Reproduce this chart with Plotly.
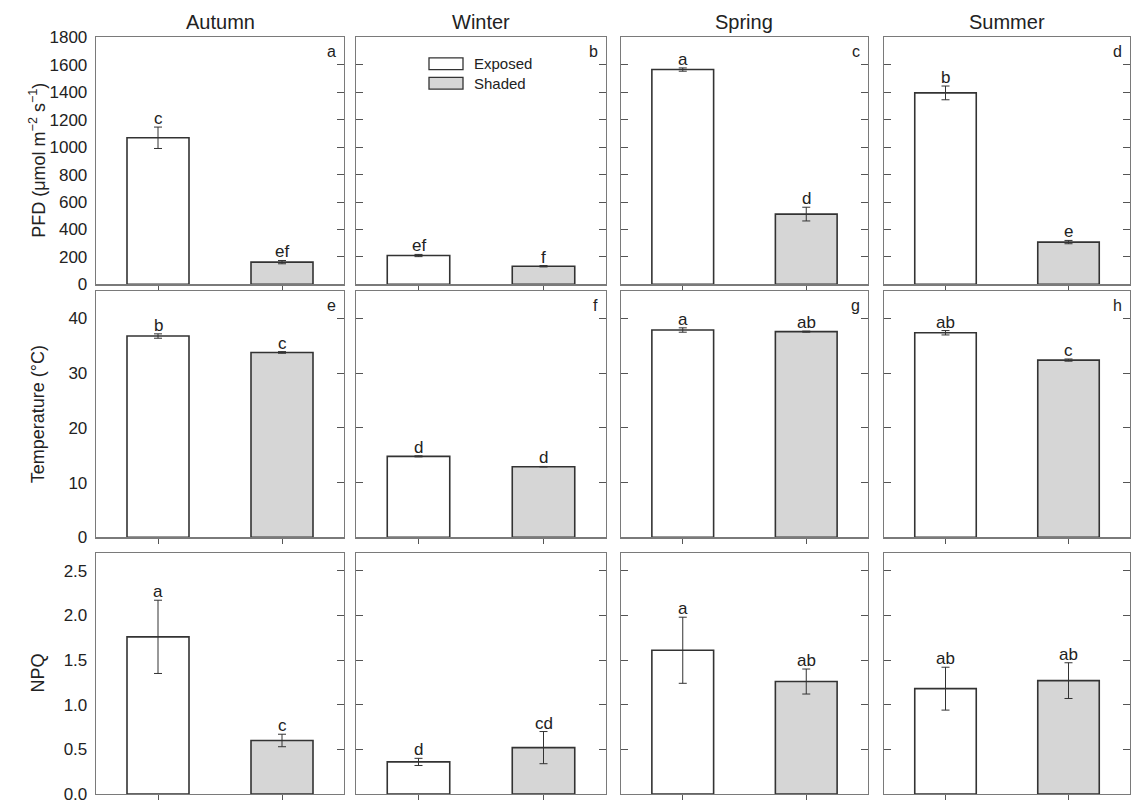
import plotly.graph_objects as go

W, H = 1134, 807

seasons = ["Autumn", "Winter", "Spring", "Summer"]
treatments = ["Exposed", "Shaded"]
panel_letters = [["a", "b", "c", "d"], ["e", "f", "g", "h"], ["", "", "", ""]]

pfd_exposed = [1068, 210, 1565, 1395]
pfd_exposed_se = [78, 8, 12, 50]
pfd_shaded = [162, 132, 512, 308]
pfd_shaded_se = [12, 5, 50, 12]
pfd_sig = [["c", "ef"], ["ef", "f"], ["a", "d"], ["b", "e"]]

temp_exposed = [36.8, 14.8, 37.9, 37.4]
temp_exposed_se = [0.4, 0.1, 0.4, 0.4]
temp_shaded = [33.8, 12.9, 37.6, 32.4]
temp_shaded_se = [0.15, 0.05, 0.1, 0.2]
temp_sig = [["b", "c"], ["d", "d"], ["a", "ab"], ["ab", "c"]]

npq_exposed = [1.76, 0.36, 1.61, 1.18]
npq_exposed_se = [0.41, 0.04, 0.37, 0.24]
npq_shaded = [0.60, 0.52, 1.26, 1.27]
npq_shaded_se = [0.07, 0.18, 0.14, 0.20]
npq_sig = [["a", "c"], ["d", "cd"], ["a", "ab"], ["ab", "ab"]]

pfd_ticks = [0, 200, 400, 600, 800, 1000, 1200, 1400, 1600, 1800]
temp_ticks = [0, 10, 20, 30, 40]
npq_ticks = [0.0, 0.5, 1.0, 1.5, 2.0, 2.5]
npq_ticklabels = ["0.0", "0.5", "1.0", "1.5", "2.0", "2.5"]

rows = [
    dict(ex=pfd_exposed, exse=pfd_exposed_se, sh=pfd_shaded, shse=pfd_shaded_se, sig=pfd_sig,
         rng=[0, 1800], ticks=pfd_ticks, ticktext=[str(t) for t in pfd_ticks],
         title="PFD (\u03bcmol m<sup>\u22122</sup> s<sup>\u22121</sup>)"),
    dict(ex=temp_exposed, exse=temp_exposed_se, sh=temp_shaded, shse=temp_shaded_se, sig=temp_sig,
         rng=[0, 45], ticks=temp_ticks, ticktext=[str(t) for t in temp_ticks],
         title="Temperature (\u00b0C)"),
    dict(ex=npq_exposed, exse=npq_exposed_se, sh=npq_shaded, shse=npq_shaded_se, sig=npq_sig,
         rng=[0, 2.7], ticks=npq_ticks, ticktext=npq_ticklabels,
         title="NPQ"),
]

col_px = [(96, 344), (356, 606), (621, 868), (884, 1130)]
row_px = [(29, 282), (289, 541), (557, 804)]

FONT = "Liberation Sans, Arial, Helvetica, sans-serif"
TXT = "#222222"
AXC = "#7a7a7a"
SHADE = "#d6d6d6"

fig = go.Figure()
layout = dict(
    width=W, height=H, margin=dict(l=0, r=0, t=0, b=0),
    paper_bgcolor="white", plot_bgcolor="white", showlegend=False,
    font=dict(family=FONT, color=TXT, size=16),
    bargap=0.5,
)
annotations = []
shapes = []

for r, rd in enumerate(rows):
    top, bot = row_px[r]
    for c in range(4):
        n = r * 4 + c + 1
        xa = "x" if n == 1 else f"x{n}"
        ya = "y" if n == 1 else f"y{n}"
        l, rt = col_px[c]
        fig.add_trace(go.Bar(
            x=treatments, y=[rd["ex"][c], rd["sh"][c]],
            xaxis=xa, yaxis=ya, width=0.5,
            marker=dict(color=["white", SHADE], line=dict(color="#333333", width=1.6)),
            error_y=dict(type="data", array=[rd["exse"][c], rd["shse"][c]],
                         color="#333333", thickness=1, width=4),
            hoverinfo="skip",
        ))
        layout[f"xaxis{n}"] = dict(
            domain=[l / W, rt / W], anchor=ya, type="category",
            categoryorder="array", categoryarray=treatments, range=[-0.5, 1.5],
            showline=True, linecolor=AXC, linewidth=1.3, mirror=True,
            ticks="outside", ticklen=5, tickcolor="#555555", tickwidth=1,
            showticklabels=False, showgrid=False, zeroline=False, fixedrange=True,
        )
        ydict = dict(
            domain=[1 - bot / H, 1 - top / H], anchor=xa, range=rd["rng"],
            showline=True, linecolor=AXC, linewidth=1.3,
            showgrid=False, zeroline=False, fixedrange=True,
            tickvals=rd["ticks"], ticktext=rd["ticktext"],
            tickcolor="#555555", tickwidth=1,
        )
        if c == 0:
            ydict.update(mirror=True, ticks="outside", ticklen=4,
                         tickcolor="rgba(0,0,0,0)", showticklabels=True,
                         tickfont=dict(size=17, color=TXT))
            en = 12 + r + 1
            layout[f"yaxis{en}"] = dict(
                overlaying=ya, side="right", anchor=xa, range=rd["rng"],
                tickvals=rd["ticks"], ticks="inside", ticklen=7,
                tickcolor="#555555", tickwidth=1, showticklabels=False,
                showline=False, showgrid=False, zeroline=False, fixedrange=True,
            )
            fig.add_trace(go.Scatter(x=[], y=[], xaxis=xa, yaxis=f"y{en}",
                                     hoverinfo="skip"))
        else:
            ydict.update(mirror="ticks", ticks="inside", ticklen=7, showticklabels=False)
        layout[f"yaxis{n}"] = ydict

        for i, tr in enumerate(treatments):
            val = rd["ex"][c] if i == 0 else rd["sh"][c]
            se = rd["exse"][c] if i == 0 else rd["shse"][c]
            annotations.append(dict(
                x=tr, y=val + se, xref=xa, yref=ya, text=rd["sig"][c][i],
                showarrow=False, yanchor="bottom", xanchor="center", yshift=-3,
                font=dict(size=17, color=TXT, family=FONT),
            ))
        if panel_letters[r][c]:
            annotations.append(dict(
                x=0.975, y=0.985, xref=f"{xa} domain", yref=f"{ya} domain",
                text=panel_letters[r][c], showarrow=False,
                xanchor="right", yanchor="top",
                font=dict(size=16, color=TXT, family=FONT),
            ))

    annotations.append(dict(
        x=38 / W, y=1 - (top + bot) / 2 / H, xref="paper", yref="paper",
        text=rd["title"], textangle=-90, showarrow=False,
        xanchor="center", yanchor="middle",
        font=dict(size=18, color=TXT, family=FONT),
    ))

for c, s in enumerate(seasons):
    l, rt = col_px[c]
    annotations.append(dict(
        x=(l + rt) / 2 / W, y=1 - 13 / H, xref="paper", yref="paper",
        text=s, showarrow=False, xanchor="center", yanchor="middle",
        font=dict(size=20, color=TXT, family=FONT),
    ))

leg_items = [("Exposed", "white", 56), ("Shaded", SHADE, 76)]
for name, col, yc in leg_items:
    shapes.append(dict(
        type="rect", xref="paper", yref="paper",
        x0=429 / W, x1=463 / W, y0=1 - (yc + 6) / H, y1=1 - (yc - 6) / H,
        fillcolor=col, line=dict(color="#333333", width=1.3),
    ))
    annotations.append(dict(
        x=472 / W, y=1 - yc / H, xref="paper", yref="paper",
        text=name, showarrow=False, xanchor="left", yanchor="middle",
        font=dict(size=15, color=TXT, family=FONT),
    ))

layout["annotations"] = annotations
layout["shapes"] = shapes
fig.update_layout(**layout)
fig.write_html(
    "out.html",
    config={"displayModeBar": False, "staticPlot": True},
    post_script=(
        "document.body.style.margin='0';document.body.style.padding='0';"
        "document.body.style.overflow='hidden';"
    ),
)
